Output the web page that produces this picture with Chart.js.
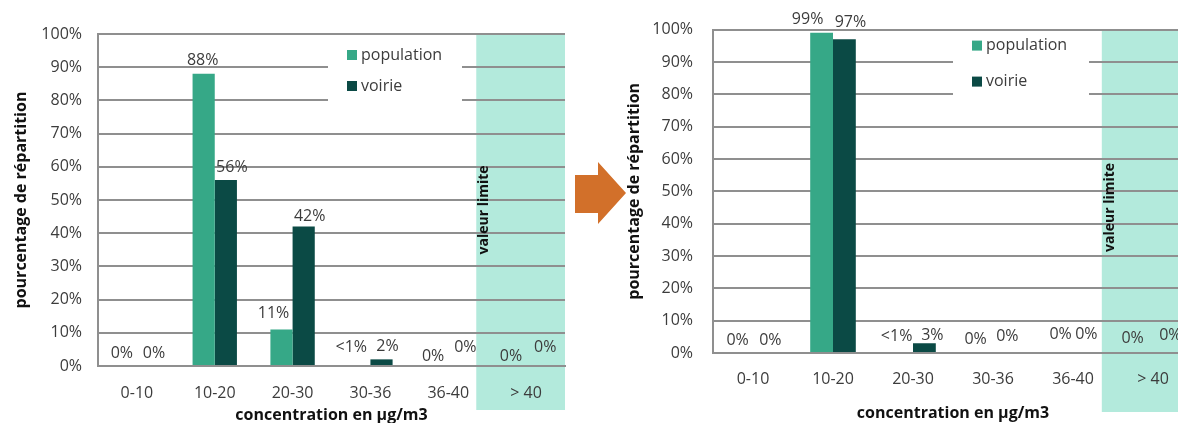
<!DOCTYPE html>
<html>
<head>
<meta charset="utf-8">
<script src="https://cdn.jsdelivr.net/npm/chart.js@4/dist/chart.umd.min.js"></script>
<style>
  html, body { margin: 0; padding: 0; background: #fff; width: 1178px; height: 423px; overflow: hidden; }
  .panel { position: absolute; top: 0; height: 423px; }
  #avantBox { left: 0; width: 600px; }
  #apresBox { left: 600px; width: 620px; }
  #arrow { position: absolute; left: 0; top: 0; z-index: 2; }
</style>
</head>
<body>
<div class="panel" id="avantBox"><canvas id="avant" width="600" height="423"></canvas></div>
<div class="panel" id="apresBox"><canvas id="apres" width="620" height="423"></canvas></div>
<svg id="arrow" width="1178" height="423">
  <polygon points="575,175 598,175 598,162 626,193 598,224 598,213 575,213" fill="#d2702a"/>
</svg>

<script>
// === Data ===
const categories = ['0-10', '10-20', '20-30', '30-36', '36-40', '> 40'];

const avantPopulation = [0, 88, 11, 0.3, 0, 0];
const avantVoirie = [0, 56, 42, 2, 0, 0];
const avantPopulationLabels = ['0%', '88%', '11%', '<1%', '0%', '0%'];
const avantVoirieLabels = ['0%', '56%', '42%', '2%', '0%', '0%'];

const apresPopulation = [0, 99, 0.3, 0, 0, 0];
const apresVoirie = [0, 97, 3, 0, 0, 0];
const apresPopulationLabels = ['0%', '99%', '<1%', '0%', '0%', '0%'];
const apresVoirieLabels = ['0%', '97%', '3%', '0%', '0%', '0%'];

// start of the "valeur limite" zone, in category-axis units
const limitStart = 4.36;

const COLOR_POP = '#36a887';
const COLOR_VOIRIE = '#0b4a45';
const COLOR_ZONE = '#b3eadc';
const COLOR_GRID = '#8f8f8f';
const COLOR_TEXT = '#3c3c3c';
const FONT = '"Open Sans", "Liberation Sans", sans-serif';

// === Plugins ===
const zonePlugin = {
  id: 'zoneLimite',
  beforeDraw(chart, args, opts) {
    const { ctx, chartArea } = chart;
    const left = chart.scales.x.getPixelForValue(opts.from);
    const right = opts.toEdge ? chart.width : chartArea.right;
    ctx.save();
    ctx.fillStyle = COLOR_ZONE;
    ctx.fillRect(left, chartArea.top, right - left, chartArea.bottom + opts.below - chartArea.top);
    ctx.restore();
  },
  afterDatasetsDraw(chart, args, opts) {
    const { ctx } = chart;
    const x = chart.scales.x.getPixelForValue(opts.from) + 8;
    const y = chart.scales.y.getPixelForValue(opts.textAt);
    ctx.save();
    ctx.translate(x, y);
    ctx.rotate(-Math.PI / 2);
    ctx.fillStyle = '#111';
    ctx.font = 'bold 14px ' + FONT;
    ctx.textAlign = 'center';
    ctx.textBaseline = 'middle';
    ctx.fillText('valeur limite', 0, 0);
    ctx.restore();
  }
};

const valueLabelPlugin = {
  id: 'valueLabels',
  afterDatasetsDraw(chart, args, opts) {
    const { ctx } = chart;
    ctx.save();
    ctx.fillStyle = COLOR_TEXT;
    ctx.font = '16px ' + FONT;
    ctx.textAlign = 'center';
    ctx.textBaseline = 'middle';
    chart.data.datasets.forEach((ds, di) => {
      chart.getDatasetMeta(di).data.forEach((bar, i) => {
        const n = (opts.nudge[i] || [])[di] || [0, 0];
        const dx = (di === 0 ? -4 : 6) + n[0];
        ctx.fillText(ds.valueLabels[i], bar.x + dx, bar.y - 13 + n[1]);
      });
    });
    ctx.restore();
  }
};

const boxLegendPlugin = {
  id: 'boxLegend',
  afterDraw(chart, args, opts) {
    const { ctx, chartArea } = chart;
    const x0 = chartArea.left + opts.dx;
    const y0 = chartArea.top + 2;
    ctx.save();
    ctx.fillStyle = '#fff';
    ctx.fillRect(x0, y0, opts.width, opts.height);
    ctx.font = '16px ' + FONT;
    ctx.textBaseline = 'middle';
    chart.data.datasets.forEach((ds, i) => {
      const cy = y0 + opts.firstRow + i * opts.rowGap;
      ctx.fillStyle = ds.backgroundColor;
      ctx.fillRect(x0 + 19, cy - 5, 10, 10);
      ctx.fillStyle = COLOR_TEXT;
      ctx.fillText(ds.label, x0 + 33, cy);
    });
    ctx.restore();
  }
};

// === Chart builder ===
function createChart(canvasId, series, geo) {
  const ctx = document.getElementById(canvasId).getContext('2d');
  return new Chart(ctx, {
    type: 'bar',
    data: {
      labels: categories,
      datasets: [
        { label: 'population', data: series.population, valueLabels: series.populationLabels, backgroundColor: COLOR_POP },
        { label: 'voirie', data: series.voirie, valueLabels: series.voirieLabels, backgroundColor: COLOR_VOIRIE }
      ]
    },
    options: {
      responsive: false,
      animation: false,
      events: [],
      categoryPercentage: 0.57,
      barPercentage: 1.0,
      layout: { padding: { left: 0, top: geo.top, right: geo.canvasWidth - geo.right, bottom: 0 } },
      scales: {
        x: {
          afterFit: s => { s.height = 423 - geo.bottom; },
          grid: { display: false },
          border: { display: true, color: COLOR_GRID, width: 2 },
          ticks: { color: COLOR_TEXT, font: { family: FONT, size: 16 }, padding: geo.xTickPad, maxRotation: 0 },
          title: {
            display: true,
            text: 'concentration en µg/m3',
            color: '#111',
            font: { family: FONT, size: 16, weight: 'bold', lineHeight: 1 },
            padding: { top: 0, bottom: geo.xTitlePad }
          }
        },
        y: {
          min: 0,
          max: 100,
          afterFit: s => { s.width = geo.left; },
          grid: { color: COLOR_GRID, lineWidth: 2, drawTicks: false },
          border: { display: true, color: COLOR_GRID, width: 2 },
          ticks: {
            stepSize: 10,
            padding: geo.yTickPad,
            color: COLOR_TEXT,
            font: { family: FONT, size: 16 },
            callback: v => v + '%'
          },
          title: {
            display: true,
            text: 'pourcentage de répartition',
            color: '#111',
            font: { family: FONT, size: 16, weight: 'bold', lineHeight: 1.2 },
            padding: { top: geo.yTitlePad, bottom: 0 }
          }
        }
      },
      plugins: {
        legend: { display: false },
        tooltip: { enabled: false },
        zoneLimite: { from: limitStart, toEdge: geo.zoneToEdge, below: geo.zoneBelow, textAt: geo.zoneTextAt },
        valueLabels: { nudge: geo.nudge },
        boxLegend: geo.legend
      }
    },
    plugins: [zonePlugin, valueLabelPlugin, boxLegendPlugin]
  });
}

createChart('avant', {
  population: avantPopulation,
  voirie: avantVoirie,
  populationLabels: avantPopulationLabels,
  voirieLabels: avantVoirieLabels
}, {
  canvasWidth: 600, left: 98, right: 565, top: 34, bottom: 366,
  yTickPad: 16, xTickPad: 10, xTitlePad: 0, yTitlePad: 12,
  zoneToEdge: false, zoneBelow: 44, zoneTextAt: 47,
  legend: { dx: 230, width: 134, height: 66, firstRow: 19, rowGap: 31 },
  nudge: { 1: [[3, 0], [0, 0]], 2: [[-4, -3], [0, 3]], 3: [[-4, -5], [0, 0]], 4: [[0, 3], [0, -6]], 5: [[0, 3], [2, -6]] }
});

createChart('apres', {
  population: apresPopulation,
  voirie: apresVoirie,
  populationLabels: apresPopulationLabels,
  voirieLabels: apresVoirieLabels
}, {
  canvasWidth: 620, left: 113, right: 593, top: 28, bottom: 353,
  yTickPad: 20, xTickPad: 9, xTitlePad: 2, yTitlePad: 25,
  zoneToEdge: true, zoneBelow: 59, zoneTextAt: 45,
  legend: { dx: 240, width: 136, height: 65, firstRow: 14, rowGap: 36 },
  nudge: { 1: [[-10, 0], [0, -4]], 2: [[-1, -3], [2, 5]], 3: [[-2, -1], [-3, -4]], 4: [[3, -6], [-4, -6]], 5: [[-5, -2], [0, -5]] }
});
</script>
</body>
</html>
